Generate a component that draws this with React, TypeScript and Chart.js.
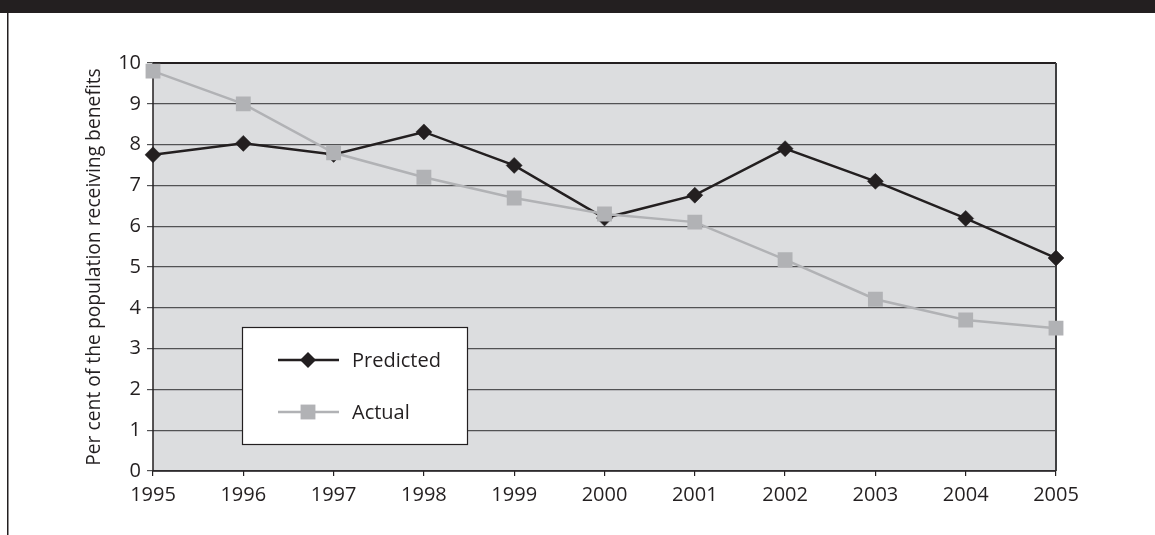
import React, { useEffect, useRef } from "react";
import { Chart, registerables } from "chart.js";

Chart.register(...registerables);

// Years on the horizontal axis
const years = ["1995", "1996", "1997", "1998", "1999", "2000", "2001", "2002", "2003", "2004", "2005"];

// Per cent of the population receiving benefits
const predicted = [7.75, 8.03, 7.76, 8.31, 7.49, 6.2, 6.76, 7.9, 7.1, 6.19, 5.22];
const actual = [9.8, 9.0, 7.8, 7.2, 6.69, 6.3, 6.1, 5.18, 4.21, 3.7, 3.5];

const yTicks = [0, 1, 2, 3, 4, 5, 6, 7, 8, 9, 10];

const seriesNames = ["Predicted", "Actual"];
const axisTitle = "Per cent of the population receiving benefits";

const DARK = "#231f20";
const GREY = "#b1b2b5";
const PLOT_BG = "#dcdddf";
const GRID = "#525254";
const FONT = "'Open Sans', sans-serif";

// Page furniture, plot background/frame and the boxed legend
const decor = {
  id: "decor",
  beforeDraw(chart: any) {
    const { ctx, chartArea: a, width, height } = chart;
    ctx.save();
    ctx.fillStyle = "#ffffff";
    ctx.fillRect(0, 0, width, height);
    // black heading band
    ctx.fillStyle = DARK;
    ctx.fillRect(0, 0, width, 13);
    // left rule of the panel
    ctx.fillStyle = DARK;
    ctx.fillRect(7, 13, 1.5, height - 13);
    // plot area background
    ctx.fillStyle = PLOT_BG;
    ctx.fillRect(a.left, a.top, a.right - a.left, a.bottom - a.top);
    ctx.restore();
  },
  beforeDatasetsDraw(chart: any) {
    const { ctx, chartArea: a } = chart;
    ctx.save();
    ctx.lineWidth = 2;
    ctx.strokeStyle = DARK;
    ctx.beginPath();
    ctx.moveTo(a.left, a.top);
    ctx.lineTo(a.right, a.top);
    ctx.stroke();
    ctx.strokeStyle = "#404042";
    ctx.beginPath();
    ctx.moveTo(a.right, a.top);
    ctx.lineTo(a.right, a.bottom);
    ctx.stroke();
    ctx.lineWidth = 1.5;
    ctx.strokeStyle = DARK;
    ctx.beginPath();
    ctx.moveTo(a.left, a.top);
    ctx.lineTo(a.left, a.bottom);
    ctx.lineTo(a.right, a.bottom);
    ctx.stroke();
    ctx.restore();
  },
  afterDraw(chart: any) {
    const { ctx } = chart;
    const box = { x: 242, y: 327, w: 225, h: 117 };
    ctx.save();
    ctx.fillStyle = "#ffffff";
    ctx.fillRect(box.x, box.y, box.w, box.h);
    ctx.strokeStyle = DARK;
    ctx.lineWidth = 1.2;
    ctx.strokeRect(box.x + 0.5, box.y + 0.5, box.w, box.h);

    const rows = [360, 412];
    chart.data.datasets.forEach((ds: any, i: number) => {
      const y = rows[i];
      ctx.strokeStyle = ds.borderColor;
      ctx.lineWidth = ds.borderWidth;
      ctx.beginPath();
      ctx.moveTo(278, y);
      ctx.lineTo(339, y);
      ctx.stroke();
      ctx.fillStyle = ds.pointBackgroundColor;
      ctx.beginPath();
      if (ds.pointStyle === "rectRot") {
        const r = ds.pointRadius;
        ctx.moveTo(308 - r, y);
        ctx.lineTo(308, y - r);
        ctx.lineTo(308 + r, y);
        ctx.lineTo(308, y + r);
        ctx.closePath();
      } else {
        const h = ds.pointRadius * Math.SQRT1_2;
        ctx.rect(308 - h, y - h, 2 * h, 2 * h);
      }
      ctx.fill();
      ctx.fillStyle = DARK;
      ctx.font = `20px ${FONT}`;
      ctx.textBaseline = "middle";
      ctx.textAlign = "left";
      ctx.fillText(ds.label, 352, y + 1);
    });
    ctx.restore();
  },
};

export default function App() {
  const ref = useRef<HTMLCanvasElement | null>(null);

  useEffect(() => {
    if (!ref.current) return;
    const chart = new Chart(ref.current, {
      type: "line",
      data: {
        labels: years,
        datasets: [
          {
            label: seriesNames[0],
            data: predicted,
            borderColor: DARK,
            backgroundColor: DARK,
            pointBackgroundColor: DARK,
            pointBorderColor: DARK,
            borderWidth: 2.5,
            pointStyle: "rectRot",
            pointRadius: 8,
            pointBorderWidth: 0.5,
            tension: 0,
            order: 2,
          },
          {
            label: seriesNames[1],
            data: actual,
            borderColor: GREY,
            backgroundColor: GREY,
            pointBackgroundColor: GREY,
            pointBorderColor: GREY,
            borderWidth: 2.5,
            pointStyle: "rect",
            pointRadius: 10.5,
            pointBorderWidth: 0,
            tension: 0,
            order: 1,
          },
        ] as any,
      },
      options: {
        animation: false,
        responsive: false,
        layout: { padding: { left: 0, top: 63, right: 99, bottom: 0 } },
        plugins: {
          legend: { display: false },
          tooltip: { enabled: false },
        },
        scales: {
          x: {
            type: "category",
            offset: false,
            grid: {
              drawOnChartArea: false,
              drawTicks: true,
              tickLength: 5,
              color: DARK,
              lineWidth: 1.2,
            },
            border: { display: false },
            ticks: {
              color: DARK,
              font: { family: FONT, size: 20 },
              padding: 7,
              maxRotation: 0,
              autoSkip: false,
            },
            afterFit(scale: any) {
              scale.height = 64;
            },
          },
          y: {
            min: 0,
            max: 10,
            afterBuildTicks(scale: any) {
              scale.ticks = yTicks.map((v) => ({ value: v }));
            },
            grid: {
              drawOnChartArea: true,
              drawTicks: true,
              tickLength: 6,
              color: GRID,
              lineWidth: 1.2,
            },
            border: { display: false },
            ticks: {
              color: DARK,
              font: { family: FONT, size: 20 },
              padding: 6,
            },
            title: {
              display: true,
              text: axisTitle,
              color: DARK,
              font: { family: FONT, size: 19.3 },
              padding: { top: 83, bottom: 0 },
            },
            afterFit(scale: any) {
              scale.width = 153;
            },
          },
        },
      } as any,
      plugins: [decor],
    });
    return () => chart.destroy();
  }, []);

  return (
    <div style={{ position: "fixed", left: 0, top: 0, width: 1155, height: 535, background: "#fff" }}>
      <canvas ref={ref} width={1155} height={535} style={{ width: 1155, height: 535, display: "block" }} />
    </div>
  );
}
